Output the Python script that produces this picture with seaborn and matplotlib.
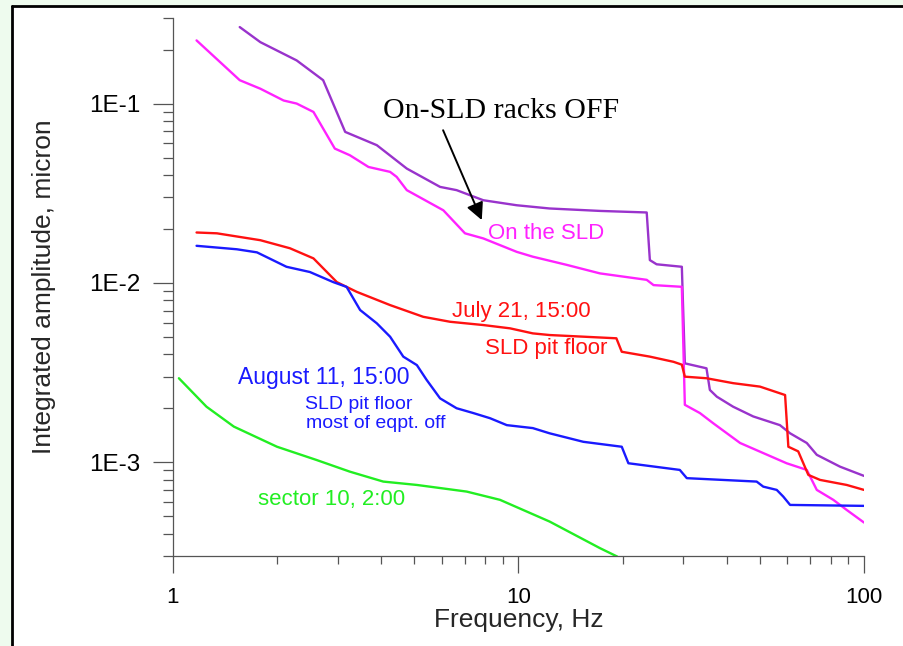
import numpy as np
import pandas as pd
import matplotlib
matplotlib.use("Agg")
import matplotlib.pyplot as plt
import seaborn as sns
from matplotlib.patches import Rectangle
from matplotlib.lines import Line2D
from matplotlib.ticker import FixedLocator, FixedFormatter, LogLocator, NullFormatter

# ---------------- data ----------------
purple_f = [1.56, 1.79, 2.28, 2.72, 3.15, 3.89, 4.75, 5.93, 6.62, 7.91, 9.88, 12.3, 17.2,
            23.5, 24.0, 25.1, 29.7, 30.3, 35.0, 35.8, 37.5, 41.8, 47.8, 57.1, 61.1, 68.3,
            73.0, 85.2, 100]
purple_a = [0.267, 0.220, 0.174, 0.135, 0.0695, 0.0586, 0.0434, 0.0343, 0.0329, 0.0289,
            0.0271, 0.0260, 0.0252, 0.0247, 0.0134, 0.0127, 0.0123, 0.00356, 0.00334,
            0.00253, 0.00232, 0.00204, 0.00180, 0.00161, 0.00145, 0.00128, 0.00110,
            0.000945, 0.000839]

magenta_f = [1.17, 1.56, 1.79, 2.09, 2.28, 2.55, 2.94, 3.25, 3.68, 4.25, 4.44, 4.75, 6.06,
             7.0, 7.91, 9.88, 11.0, 13.8, 17.2, 23.5, 24.6, 29.7, 30.3, 33.5, 36.6, 43.8,
             59.7, 68.3, 73.0, 81.5, 89.1, 100]
magenta_a = [0.225, 0.135, 0.121, 0.104, 0.100, 0.0898, 0.0561, 0.0515, 0.0443, 0.0416,
             0.0390, 0.0329, 0.0254, 0.0189, 0.0177, 0.0149, 0.0140, 0.0126, 0.0113,
             0.0104, 0.00972, 0.00951, 0.00209, 0.00188, 0.00165, 0.00128, 0.000987,
             0.000906, 0.000701, 0.000617, 0.000542, 0.000461]

red_f = [1.17, 1.34, 1.79, 2.18, 2.55, 2.98, 3.40, 4.25, 5.30, 6.34, 7.91, 9.45, 11.0, 12.3,
         19.2, 19.9, 24.0, 28.1, 29.7, 30.3, 35.0, 41.8, 50.0, 59.1, 60.4, 64.5, 69.0,
         74.6, 89.1, 100]
red_a = [0.0191, 0.0189, 0.0173, 0.0156, 0.0137, 0.0101, 0.00892, 0.00752, 0.00647,
         0.00607, 0.00582, 0.00558, 0.00523, 0.00512, 0.00491, 0.00413, 0.00388, 0.00363,
         0.00350, 0.00300, 0.00294, 0.00276, 0.00264, 0.00237, 0.00122, 0.00115, 0.00085,
         0.000797, 0.000747, 0.000701]

blue_f = [1.17, 1.53, 1.75, 2.13, 2.49, 2.91, 3.18, 3.48, 3.89, 4.25, 4.64, 5.08, 5.42,
          5.93, 6.62, 7.4, 8.27, 9.25, 11.0, 12.3, 15.4, 19.9, 20.8, 29.3, 30.7, 48.9,
          51.1, 55.9, 58.4, 61.1, 100]
blue_a = [0.0161, 0.0154, 0.0148, 0.0123, 0.0115, 0.0101, 0.0095, 0.00706, 0.00595,
          0.00501, 0.00388, 0.00348, 0.00288, 0.00227, 0.00200, 0.00188, 0.00176, 0.00161,
          0.00155, 0.00145, 0.00130, 0.00122, 0.000987, 0.000906, 0.000815, 0.00078,
          0.000731, 0.000701, 0.000643, 0.000578, 0.000571]

green_f = [1.04, 1.25, 1.50, 2.0, 2.6, 3.25, 4.06, 5.08, 7.08, 8.84, 12.3, 17.2, 19.3]
green_a = [0.00294, 0.00204, 0.00158, 0.00122, 0.00103, 0.000886, 0.00078, 0.000747,
           0.000686, 0.000617, 0.000467, 0.000332, 0.000298]

series_names = ["racks_off", "on_sld", "july21", "aug11", "sector10"]
series_colors = ["#9933cc", "#ff22ff", "#ff1111", "#1a1aff", "#22ee22"]

xtick_vals = [1, 10, 100]
xtick_labels = ["1", "10", "100"]
ytick_vals = [1e-3, 1e-2, 1e-1]
ytick_labels = ["1E-3", "1E-2", "1E-1"]

x_label = "Frequency, Hz"
y_label = "Integrated amplitude, micron"

# ---------------- build table ----------------
frames = []
for name, f, a in zip(series_names,
                      [purple_f, magenta_f, red_f, blue_f, green_f],
                      [purple_a, magenta_a, red_a, blue_a, green_a]):
    frames.append(pd.DataFrame({"f": f, "a": a, "series": name}))
df = pd.concat(frames, ignore_index=True)

# ---------------- styling ----------------
sns.set_style("white")
plt.rcParams["font.family"] = ["Liberation Sans", "DejaVu Sans"]

W, H = 904, 646
fig = plt.figure(figsize=(W / 100, H / 100), dpi=100, facecolor="#eefbee")

# white panel with black left/top border
fig.add_artist(Rectangle((12 / W, 0), 1 - 12 / W, (H - 6) / H, transform=fig.transFigure,
                         facecolor="white", edgecolor="none", zorder=-5))
fig.add_artist(Line2D([12 / W, 12 / W], [0, (H - 5.5) / H], transform=fig.transFigure,
                      color="black", lw=2.0, zorder=-4))
fig.add_artist(Line2D([12 / W, 1], [(H - 5.5) / H, (H - 5.5) / H], transform=fig.transFigure,
                      color="black", lw=2.0, zorder=-4))

ax = fig.add_axes([173 / W, 90 / H, 691 / W, 538 / H])
ax.set_facecolor("white")
ax.set_xscale("log")
ax.set_yscale("log")

sns.lineplot(data=df, x="f", y="a", hue="series", hue_order=series_names,
             palette=dict(zip(series_names, series_colors)), sort=False,
             estimator=None, legend=False, linewidth=1.7, ax=ax)

ax.set_xlim(1, 100)
ax.set_ylim(3e-4, 0.3)

for s in ["top", "right"]:
    ax.spines[s].set_visible(False)
for s in ["left", "bottom"]:
    ax.spines[s].set_color("#555555")
    ax.spines[s].set_linewidth(0.9)

ax.xaxis.set_major_locator(FixedLocator(xtick_vals))
ax.xaxis.set_major_formatter(FixedFormatter(xtick_labels))
ax.xaxis.set_minor_locator(LogLocator(base=10, subs=np.arange(2, 10)))
ax.xaxis.set_minor_formatter(NullFormatter())
ax.yaxis.set_major_locator(FixedLocator(ytick_vals))
ax.yaxis.set_major_formatter(FixedFormatter(ytick_labels))
ax.yaxis.set_minor_locator(LogLocator(base=10, subs=np.arange(2, 10)))
ax.yaxis.set_minor_formatter(NullFormatter())

ax.tick_params(axis="both", which="both", bottom=True, left=True, top=False, right=False)
ax.tick_params(axis="x", which="major", direction="out", length=12, width=0.9,
               color="#555555", pad=10, labelsize=16, labelcolor="black")
ax.tick_params(axis="x", which="minor", direction="out", length=5.5, width=0.9,
               color="#555555")
ax.tick_params(axis="y", which="major", direction="out", length=14.4, width=0.9,
               color="#555555", pad=9, labelsize=17.5, labelcolor="black")
ax.tick_params(axis="y", which="minor", direction="out", length=7.2, width=0.9,
               color="#555555")

ax.set_xlabel(x_label, fontsize=19, va="baseline")
ax.xaxis.set_label_coords(0.5, (556 - 627) / 538)
ax.set_ylabel(y_label, fontsize=19, va="baseline")
ax.yaxis.set_label_coords((51 - 173) / 691, 0.5)

# ---------------- annotations ----------------
ax.text(8.9, 0.0828, "On-SLD racks OFF", family="Liberation Serif", fontsize=21.5,
        ha="center", va="baseline", color="black")
ax.annotate("", xy=(7.83, 0.0224), xytext=(6.05, 0.071),
            arrowprops=dict(arrowstyle="-|>", color="black", lw=1.4, mutation_scale=26,
                            shrinkA=0, shrinkB=0))
ax.text(8.16, 0.01894, "On the SLD", fontsize=16, color=series_colors[1],
        ha="left", va="center")
ax.text(6.42, 0.0069, "July 21, 15:00", fontsize=16, color=series_colors[2],
        ha="left", va="center")
ax.text(8.0, 0.00428, "SLD pit floor", fontsize=16, color=series_colors[2],
        ha="left", va="center")
ax.text(1.542, 0.00295, "August 11, 15:00", fontsize=16.5, color=series_colors[3],
        ha="left", va="center")
ax.text(2.41, 0.00211, "SLD pit floor", fontsize=14, color=series_colors[3],
        ha="left", va="center")
ax.text(2.43, 0.00165, "most of eqpt. off", fontsize=14, color=series_colors[3],
        ha="left", va="center")
ax.text(1.76, 0.000617, "sector 10, 2:00", fontsize=16, color=series_colors[4],
        ha="left", va="center")

fig.savefig("out.png", dpi=100, facecolor=fig.get_facecolor())
